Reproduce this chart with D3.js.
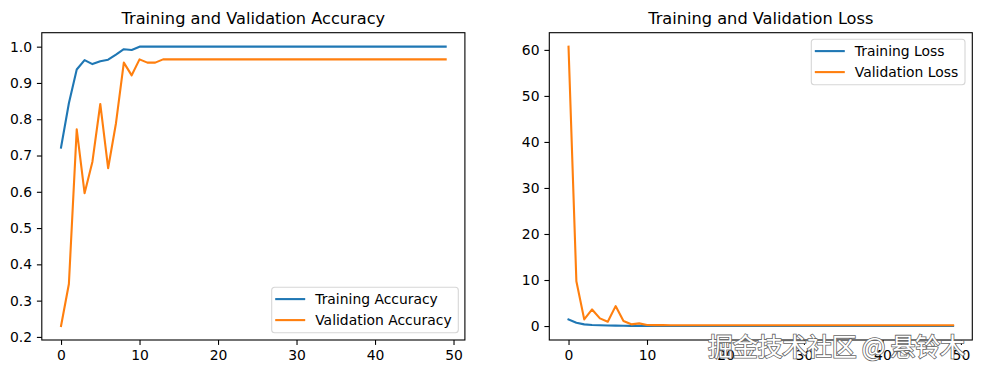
<!DOCTYPE html>
<html>
<head>
<meta charset="utf-8">
<script src="https://cdn.jsdelivr.net/npm/d3@7"></script>
<style>
  body { margin: 0; background: #fff; }
  svg { font-family: "DejaVu Sans", sans-serif; }
</style>
</head>
<body>
<div id="chart"></div>
<script>
const epochs = d3.range(50);

const trainAcc = [0.722, 0.844, 0.937, 0.963, 0.952, 0.960, 0.964, 0.978, 0.993, 0.991,
  1.0, 1.0, 1.0, 1.0, 1.0, 1.0, 1.0, 1.0, 1.0, 1.0,
  1.0, 1.0, 1.0, 1.0, 1.0, 1.0, 1.0, 1.0, 1.0, 1.0,
  1.0, 1.0, 1.0, 1.0, 1.0, 1.0, 1.0, 1.0, 1.0, 1.0,
  1.0, 1.0, 1.0, 1.0, 1.0, 1.0, 1.0, 1.0, 1.0, 1.0];
const valAcc = [0.230, 0.346, 0.772, 0.596, 0.683, 0.842, 0.665, 0.789, 0.956, 0.921,
  0.965, 0.956, 0.956, 0.965, 0.965, 0.965, 0.965, 0.965, 0.965, 0.965,
  0.965, 0.965, 0.965, 0.965, 0.965, 0.965, 0.965, 0.965, 0.965, 0.965,
  0.965, 0.965, 0.965, 0.965, 0.965, 0.965, 0.965, 0.965, 0.965, 0.965,
  0.965, 0.965, 0.965, 0.965, 0.965, 0.965, 0.965, 0.965, 0.965, 0.965];
const trainLoss = [1.45, 0.73, 0.36, 0.21, 0.16, 0.12, 0.09, 0.07, 0.04, 0.03,
  0.02, 0.015, 0.012, 0.01, 0.009, 0.008, 0.007, 0.007, 0.006, 0.006,
  0.005, 0.005, 0.005, 0.004, 0.004, 0.004, 0.004, 0.003, 0.003, 0.003,
  0.003, 0.003, 0.003, 0.002, 0.002, 0.002, 0.002, 0.002, 0.002, 0.002,
  0.002, 0.002, 0.002, 0.002, 0.001, 0.001, 0.001, 0.001, 0.001, 0.001];
const valLoss = [60.7, 9.74, 1.45, 3.6, 1.67, 0.95, 4.33, 1.08, 0.37, 0.58,
  0.22, 0.20, 0.19, 0.18, 0.18, 0.18, 0.18, 0.18, 0.18, 0.18,
  0.18, 0.18, 0.18, 0.18, 0.18, 0.18, 0.18, 0.18, 0.18, 0.18,
  0.18, 0.18, 0.18, 0.18, 0.18, 0.18, 0.18, 0.18, 0.18, 0.18,
  0.18, 0.18, 0.18, 0.18, 0.18, 0.18, 0.18, 0.18, 0.18, 0.18];

const xTicks = [0, 10, 20, 30, 40, 50];
const accTicks = [0.2, 0.3, 0.4, 0.5, 0.6, 0.7, 0.8, 0.9, 1.0];
const lossTicks = [0, 10, 20, 30, 40, 50, 60];

const blue = "#1f77b4", orange = "#ff7f0e";
const width = 981, height = 374;

const svg = d3.select("#chart").append("svg")
  .attr("width", width)
  .attr("height", height);

function panel(opts) {
  const { left, right, top, bottom, title, series, names, yTicks, yFmt, legendPos } = opts;
  const g = svg.append("g");

  const allY = series.flat();
  const yMin = d3.min(allY), yMax = d3.max(allY);
  const yPad = (yMax - yMin) * 0.05;
  const xPad = 49 * 0.05;

  const x = d3.scaleLinear().domain([-xPad, 49 + xPad]).range([left, right]);
  const y = d3.scaleLinear().domain([yMin - yPad, yMax + yPad]).range([bottom, top]);

  const line = d3.line().x((d, i) => x(epochs[i])).y(d => y(d));
  series.forEach((s, k) => {
    g.append("path")
      .datum(s)
      .attr("fill", "none")
      .attr("stroke", k === 0 ? blue : orange)
      .attr("stroke-width", 2.1)
      .attr("stroke-linejoin", "round")
      .attr("stroke-linecap", "square")
      .attr("d", line);
  });

  const xAxis = g.append("g")
    .attr("transform", `translate(0,${bottom})`)
    .call(d3.axisBottom(x).tickValues(xTicks).tickSize(4.9).tickPadding(4.9).tickFormat(d3.format("d")));
  const yAxis = g.append("g")
    .attr("transform", `translate(${left},0)`)
    .call(d3.axisLeft(y).tickValues(yTicks).tickSize(4.9).tickPadding(4.9).tickFormat(yFmt));
  [xAxis, yAxis].forEach(a => {
    a.select(".domain").remove();
    a.selectAll(".tick line").attr("stroke", "#000").attr("stroke-width", 1.1);
    a.selectAll(".tick text")
      .attr("fill", "#000")
      .style("font-size", "13.9px")
      .style("font-family", "DejaVu Sans");
  });

  g.append("rect")
    .attr("x", left).attr("y", top)
    .attr("width", right - left).attr("height", bottom - top)
    .attr("fill", "none").attr("stroke", "#000").attr("stroke-width", 1.1);

  g.append("text")
    .attr("x", (left + right) / 2)
    .attr("y", top - 8.5)
    .attr("text-anchor", "middle")
    .style("font-size", "16.2px")
    .text(title);

  // legend
  const lg = g.append("g").attr("transform", `translate(${legendPos[0]},${legendPos[1]})`);
  lg.append("rect")
    .attr("width", legendPos[2]).attr("height", 45.5)
    .attr("rx", 3)
    .attr("fill", "#fff").attr("fill-opacity", 0.8)
    .attr("stroke", "#d6d6d6").attr("stroke-width", 1.1);
  names.forEach((n, k) => {
    const yy = 11.8 + k * 21;
    lg.append("line")
      .attr("x1", 3.5).attr("x2", 33.5)
      .attr("y1", yy).attr("y2", yy)
      .attr("stroke", k === 0 ? blue : orange)
      .attr("stroke-width", 2.1);
    lg.append("text")
      .attr("x", 43.5).attr("y", yy)
      .attr("dy", "0.36em")
      .style("font-size", "13.9px")
      .text(n);
  });
}

panel({
  left: 41.8, right: 464.9, top: 32.7, bottom: 340,
  title: "Training and Validation Accuracy",
  series: [trainAcc, valAcc],
  names: ["Training Accuracy", "Validation Accuracy"],
  yTicks: accTicks, yFmt: d3.format(".1f"),
  legendPos: [271.7, 287.3, 186.6]
});

panel({
  left: 549.3, right: 972.3, top: 32.7, bottom: 340,
  title: "Training and Validation Loss",
  series: [trainLoss, valLoss],
  names: ["Training Loss", "Validation Loss"],
  yTicks: lossTicks, yFmt: d3.format("d"),
  legendPos: [811.3, 39.3, 153.7]
});

// watermark
svg.append("text")
  .attr("x", 708)
  .attr("y", 356)
  .style("font-family", "'Noto Sans CJK SC', sans-serif")
  .style("font-size", "25px")
  .attr("fill", "#fff")
  .attr("stroke", "#666")
  .attr("stroke-width", 1.6)
  .attr("paint-order", "stroke")
  .attr("textLength", 257)
  .text("掘金技术社区 @ 悬铃木");
</script>
</body>
</html>
